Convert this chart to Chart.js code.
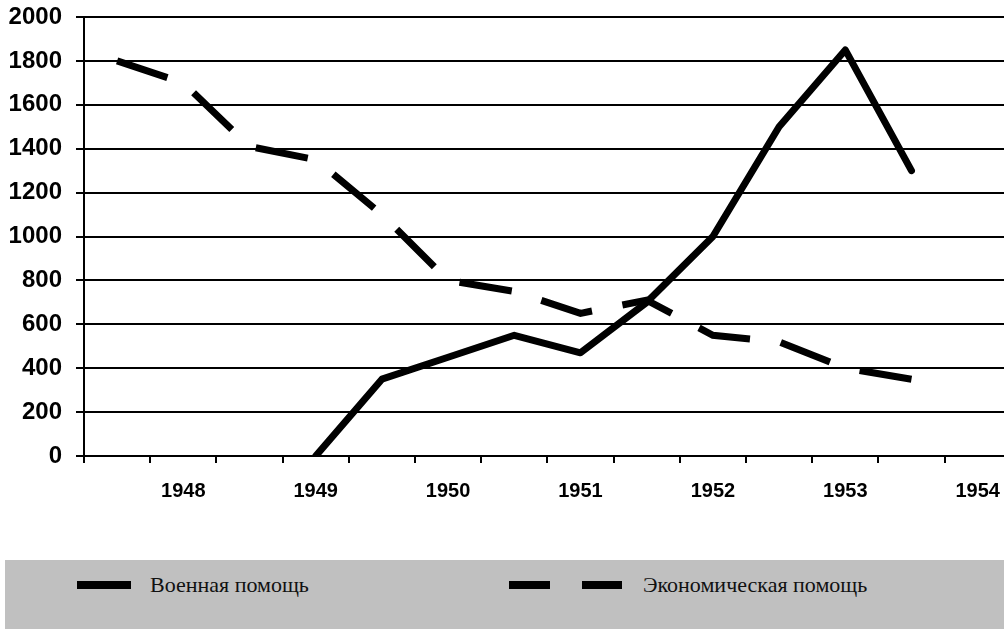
<!DOCTYPE html>
<html>
<head>
<meta charset="utf-8">
<script src="https://cdn.jsdelivr.net/npm/chart.js@4/dist/chart.umd.min.js"></script>
<style>
  html, body { margin: 0; padding: 0; background: #fff; overflow: hidden; }
  .wrap { position: relative; width: 1004px; height: 629px; overflow: hidden; }
  #myChart { position: absolute; left: 0; top: 0; }
  .legend {
    position: absolute; left: 5px; top: 560px; width: 999px; height: 69px;
    background: #c0c0c0; font-family: "Liberation Serif", "Times New Roman", serif;
    font-size: 22px; color: #111;
  }
  .item { position: absolute; top: 13px; display: flex; align-items: center; height: 24px; }
  .sample { position: relative; height: 8px; }
  .sample span { position: absolute; top: 0; height: 8px; background: #000; }
</style>
</head>
<body>
<div class="wrap">
  <canvas id="myChart" width="1016" height="560"></canvas>
  <div class="legend" id="legend"></div>
</div>
<script>
// half-year steps, labels only on whole years
const categories = ["", "1948", "", "1949", "", "1950", "", "1951", "", "1952", "", "1953", "", "1954"];
const military = [null, null, null, 0, 350, 450, 550, 470, 700, 1000, 1500, 1850, 1300, null];
const economic = [1800, 1700, 1410, 1350, 1100, 800, 750, 650, 710, 550, 520, 400, 350, null];
const seriesNames = ["Военная помощь", "Экономическая помощь"];
const yTicks = { min: 0, max: 2000, step: 200 };

Chart.defaults.font.family = "'Liberation Sans', Arial, sans-serif";
Chart.defaults.color = "#000";

const ctx = document.getElementById("myChart");
const chart = new Chart(ctx, {
  type: "line",
  data: {
    labels: categories,
    datasets: [
      {
        label: seriesNames[0],
        data: military,
        borderColor: "#000",
        borderWidth: 7,
        borderCapStyle: "round",
        borderJoinStyle: "round",
        pointRadius: 0,
        tension: 0,
      },
      {
        label: seriesNames[1],
        data: economic,
        borderColor: "#000",
        borderWidth: 7,
        borderDash: [53, 31],
        borderCapStyle: "butt",
        borderJoinStyle: "miter",
        pointRadius: 0,
        tension: 0,
      },
    ],
  },
  options: {
    responsive: false,
    animation: false,
    events: [],
    layout: { padding: { top: 0, right: 2, left: 0, bottom: 0 } },
    plugins: { legend: { display: false }, tooltip: { enabled: false } },
    scales: {
      x: {
        offset: true,
        grid: {
          offset: true,
          drawOnChartArea: false,
          drawTicks: true,
          tickLength: 7,
          color: "#000",
          lineWidth: 2,
        },
        border: { color: "#000", width: 2 },
        ticks: {
          autoSkip: false,
          maxRotation: 0,
          padding: 16,
          font: { size: 20, weight: "bold" },
        },
        afterFit: (scale) => { scale.height = 104; },
      },
      y: {
        min: yTicks.min,
        max: yTicks.max,
        grid: { color: "#000", lineWidth: 2, tickLength: 8 },
        border: { color: "#000", width: 2 },
        ticks: {
          stepSize: yTicks.step,
          padding: 14,
          // small lineHeight keeps the top gap tight
          font: { size: 24, weight: "bold", lineHeight: 0.25 },
          callback: (v) => String(v),
        },
        afterFit: (scale) => { scale.width = 84; },
      },
    },
  },
});

// legend strip built from the datasets
const legendPos = [77, 509];
const legend = document.getElementById("legend");
chart.data.datasets.forEach((ds, i) => {
  const item = document.createElement("div");
  item.className = "item";
  item.style.left = (legendPos[i] - 5) + "px";
  const sample = document.createElement("div");
  sample.className = "sample";
  if (ds.borderDash) {
    sample.style.width = "113px";
    sample.style.marginRight = "21px";
    sample.innerHTML = '<span style="left:0;width:41px"></span><span style="left:73px;width:40px"></span>';
  } else {
    sample.style.width = "54px";
    sample.style.marginRight = "19px";
    sample.innerHTML = '<span style="left:0;width:54px"></span>';
  }
  const text = document.createElement("span");
  text.textContent = ds.label;
  item.appendChild(sample);
  item.appendChild(text);
  legend.appendChild(item);
});
</script>
</body>
</html>
